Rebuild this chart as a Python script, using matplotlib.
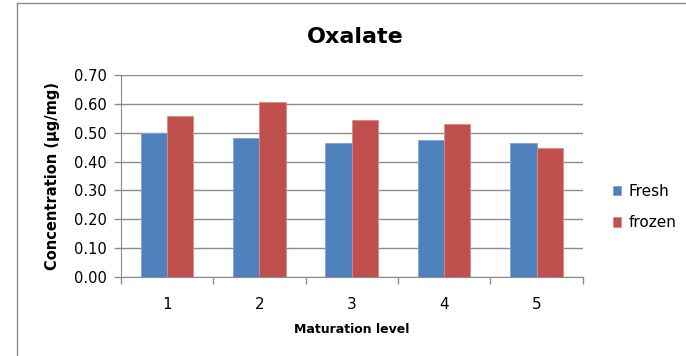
import matplotlib
matplotlib.use("Agg")
import matplotlib.pyplot as plt
import numpy as np
from matplotlib.lines import Line2D

categories = ["1", "2", "3", "4", "5"]
fresh = [0.50, 0.482, 0.463, 0.473, 0.463]
frozen = [0.558, 0.605, 0.545, 0.531, 0.447]
series_names = ["Fresh", "frozen"]
yticks = [0.0, 0.1, 0.2, 0.3, 0.4, 0.5, 0.6, 0.7]

blue = "#4F81BD"
red = "#C0504D"
grid_c = "#8C8C8C"

plt.rcParams["font.family"] = ["DejaVu Sans"]

fig = plt.figure(figsize=(6.86, 3.56), dpi=100)
W, H = 686, 356

# chart frame
fig.add_artist(Line2D([16.5 / W, 16.5 / W], [0, 1 - 3 / H], transform=fig.transFigure,
                      color="#8C8C8C", lw=1.0))
fig.add_artist(Line2D([16.5 / W, 1], [1 - 3 / H, 1 - 3 / H], transform=fig.transFigure,
                      color="#8C8C8C", lw=1.0))

left, right = 120.7 / W, 582.7 / W
bottom, top = 1 - 277.3 / H, 1 - 74.7 / H
ax = fig.add_axes([left, bottom, right - left, top - bottom])

x = np.arange(len(categories)) + 0.5
w = 0.285
ax.bar(x - w / 2, fresh, w, color=blue, edgecolor="#7FA3D0", linewidth=0.6, zorder=3,
       label=series_names[0])
ax.bar(x + w / 2, frozen, w, color=red, edgecolor="#D98A88", linewidth=0.6, zorder=3,
       label=series_names[1])

ax.set_xlim(0, len(categories))
ax.set_ylim(0, 0.7)
ax.set_yticks(yticks)
ax.set_yticklabels([f"{v:.2f}" for v in yticks], fontsize=10.5)
ax.yaxis.grid(True, color=grid_c, lw=1.0, zorder=0)
ax.set_axisbelow(True)

ax.set_xticks(x)
ax.set_xticklabels(categories, fontsize=11)
ax.set_xticks(np.arange(len(categories) + 1), minor=True)
ax.tick_params(axis="x", which="major", length=0, pad=14)
ax.tick_params(axis="x", which="minor", length=5, color=grid_c, width=1.0)
ax.tick_params(axis="y", length=5, color=grid_c, width=1.0, pad=5)

for s in ["top", "right"]:
    ax.spines[s].set_visible(False)
ax.spines["left"].set_color(grid_c)
ax.spines["bottom"].set_color(grid_c)

ax.set_xlabel("Maturation level", fontsize=9, fontweight="bold", labelpad=8)
ax.set_ylabel("Concentration (µg/mg)", fontsize=10.5, fontweight="bold", labelpad=10)

fig.text(355 / W, 1 - 37 / H, "Oxalate", ha="center", va="center",
         fontsize=16, fontweight="bold")

ax.legend(loc="center left", bbox_to_anchor=(599 / W, 1 - 207 / H),
          bbox_transform=fig.transFigure, frameon=False, fontsize=11,
          handlelength=0.55, handleheight=0.55, handletextpad=0.5, labelspacing=1.1)

fig.savefig("out.png", dpi=100)
